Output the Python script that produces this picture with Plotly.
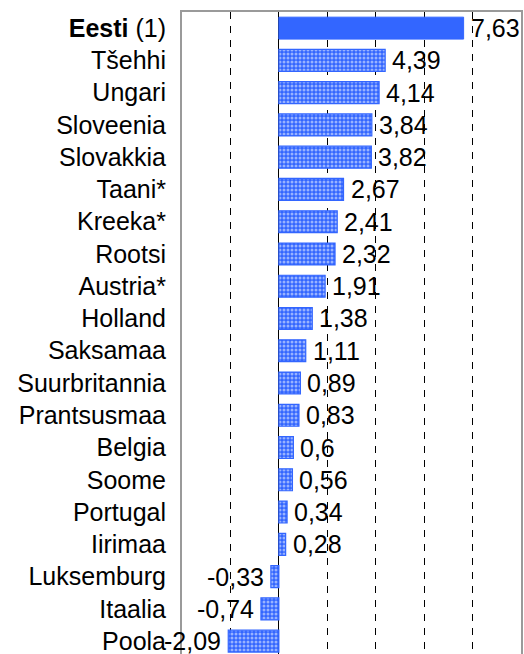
import plotly.graph_objects as go

countries = ["<b>Eesti</b> (1)", "Tšehhi", "Ungari", "Sloveenia", "Slovakkia", "Taani*", "Kreeka*",
             "Rootsi", "Austria*", "Holland", "Saksamaa", "Suurbritannia", "Prantsusmaa",
             "Belgia", "Soome", "Portugal", "Iirimaa", "Luksemburg", "Itaalia", "Poola"]
values = [7.63, 4.39, 4.14, 3.84, 3.82, 2.67, 2.41, 2.32, 1.91, 1.38, 1.11, 0.89, 0.83,
          0.6, 0.56, 0.34, 0.28, -0.33, -0.74, -2.09]
labels = [str(v).replace(".", ",") for v in values]
grid_vals = [-2, 2, 4, 6, 8]

BLUE = "#3366FF"
FONT = "Liberation Sans"
FS = 25

fig = go.Figure()
# Estonia: solid bar
fig.add_trace(go.Bar(
    y=countries[:1], x=values[:1], orientation="h",
    marker=dict(color=BLUE, line=dict(color=BLUE, width=1)),
    showlegend=False, hoverinfo="skip",
))
# others: patterned
fig.add_trace(go.Bar(
    y=countries[1:], x=values[1:], orientation="h",
    marker=dict(color=BLUE, line=dict(color=BLUE, width=1.2),
                pattern=dict(shape=".", fgcolor="white", bgcolor=BLUE,
                             size=4, solidity=0.45, fillmode="overlay")),
    showlegend=False, hoverinfo="skip",
))

for c, v, t in zip(countries, values, labels):
    fig.add_annotation(
        x=v, y=c, text=t, showarrow=False,
        xanchor="left" if v >= 0 else "right",
        xshift=5 if v >= 0 else -5,
        font=dict(family=FONT, size=FS, color="black"),
    )

fig.update_layout(
    width=524, height=654,
    margin=dict(l=182, r=3, t=12, b=0),
    paper_bgcolor="white", plot_bgcolor="white",
    bargap=0.32, barmode="overlay",
    font=dict(family=FONT, size=FS, color="black"),
)
fig.update_xaxes(
    range=[-4, 10], tickvals=grid_vals, showticklabels=False, ticks="",
    showgrid=True, gridcolor="black", gridwidth=1, griddash="7px,7px",
    zeroline=True, zerolinecolor="black", zerolinewidth=1,
    showline=True, linecolor="#9a9a9a", linewidth=2, mirror=True,
    automargin=False,
)
fig.update_yaxes(
    type="category", categoryorder="array", categoryarray=countries,
    range=[19.4, -0.5], ticks="", ticklabelstandoff=9,
    showgrid=False, showline=True, linecolor="#9a9a9a", linewidth=2, mirror=True,
    tickfont=dict(family=FONT, size=FS, color="black"),
    automargin=False,
)

fig.write_html(
    "out.html",
    config={"displayModeBar": False},
    post_script="document.body.style.margin='0';document.body.style.overflow='hidden';",
)
